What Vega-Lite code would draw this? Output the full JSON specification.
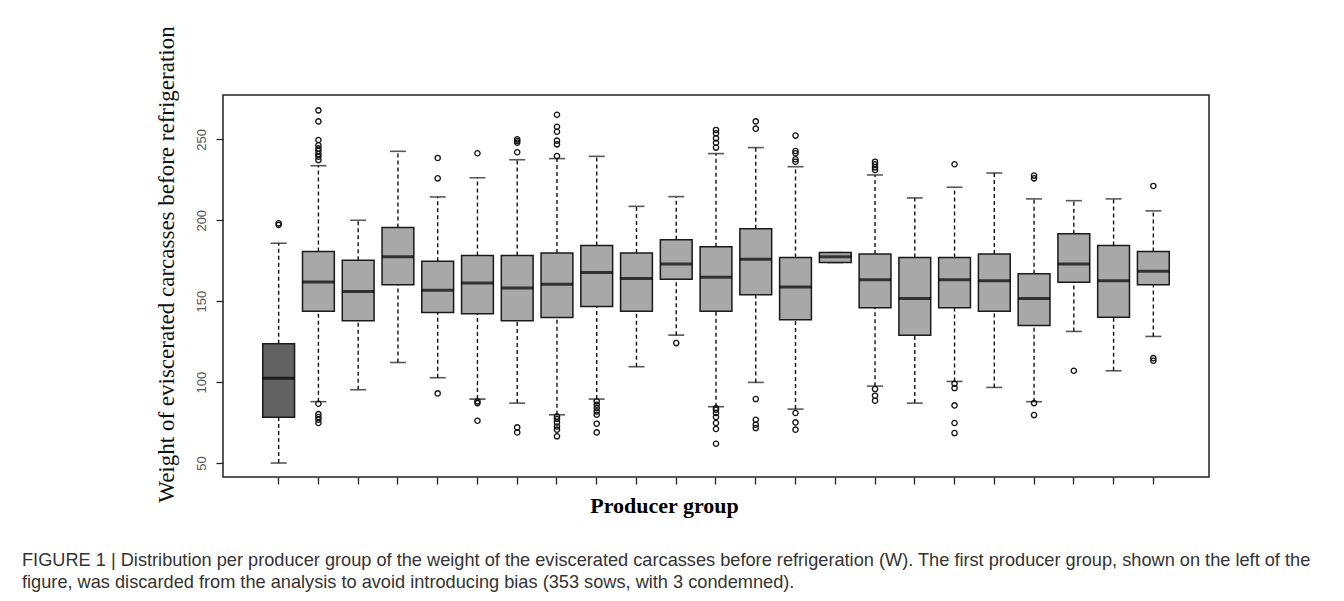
{
  "$schema": "https://vega.github.io/schema/vega-lite/v6.json",
  "width": 986,
  "height": 382,
  "autosize": {"type": "none"},
  "padding": {"left": 223, "top": 95, "right": 135, "bottom": 124},
  "background": "white",
  "title": {
    "text": [
      "FIGURE 1 | Distribution per producer group of the weight of the eviscerated carcasses before refrigeration (W). The first producer group, shown on the left of the",
      "figure, was discarded from the analysis to avoid introducing bias (353 sows, with 3 condemned)."
    ],
    "orient": "bottom",
    "anchor": "start",
    "frame": "group",
    "dx": -201,
    "offset": 36,
    "font": "Liberation Sans",
    "fontSize": 18.2,
    "fontWeight": "normal",
    "color": "#333333",
    "lineHeight": 22
  },
  "datasets": {
    "boxes": [
      {"group": 1, "status": "discarded", "lower": 50, "q1": 78.2, "median": 102.3, "q3": 123.7, "upper": 185.8},
      {"group": 2, "status": "kept", "lower": 87.9, "q1": 143.8, "median": 161.9, "q3": 180.7, "upper": 233.7},
      {"group": 3, "status": "kept", "lower": 95.3, "q1": 137.9, "median": 156, "q3": 175.3, "upper": 200},
      {"group": 4, "status": "kept", "lower": 112.1, "q1": 160.1, "median": 177.4, "q3": 195.5, "upper": 242.6},
      {"group": 5, "status": "kept", "lower": 102.7, "q1": 143, "median": 156.8, "q3": 174.7, "upper": 214.4},
      {"group": 6, "status": "kept", "lower": 89.5, "q1": 142.2, "median": 161.3, "q3": 178.2, "upper": 226.3},
      {"group": 7, "status": "kept", "lower": 87, "q1": 137.9, "median": 158.2, "q3": 178.2, "upper": 237.4},
      {"group": 8, "status": "kept", "lower": 79.8, "q1": 139.9, "median": 160.5, "q3": 179.8, "upper": 238.1},
      {"group": 9, "status": "kept", "lower": 89.5, "q1": 146.7, "median": 167.7, "q3": 184.4, "upper": 239.5},
      {"group": 10, "status": "kept", "lower": 109.5, "q1": 143.8, "median": 164, "q3": 179.8, "upper": 208.6},
      {"group": 11, "status": "kept", "lower": 129, "q1": 163.6, "median": 173, "q3": 187.9, "upper": 214.6},
      {"group": 12, "status": "kept", "lower": 84.8, "q1": 143.8, "median": 164.8, "q3": 183.7, "upper": 241.2},
      {"group": 13, "status": "kept", "lower": 99.8, "q1": 153.9, "median": 175.9, "q3": 194.7, "upper": 244.9},
      {"group": 14, "status": "kept", "lower": 83.3, "q1": 138.5, "median": 158.8, "q3": 177, "upper": 233.1},
      {"group": 15, "status": "kept", "lower": 173.9, "q1": 173.9, "median": 177.4, "q3": 180, "upper": 180},
      {"group": 16, "status": "kept", "lower": 97.5, "q1": 145.9, "median": 163.2, "q3": 179.2, "upper": 228},
      {"group": 17, "status": "kept", "lower": 87, "q1": 129, "median": 151.6, "q3": 177, "upper": 213.8},
      {"group": 18, "status": "kept", "lower": 100.4, "q1": 145.9, "median": 163.2, "q3": 177, "upper": 220.4},
      {"group": 19, "status": "kept", "lower": 96.7, "q1": 143.8, "median": 162.6, "q3": 179.2, "upper": 229.2},
      {"group": 20, "status": "kept", "lower": 87.9, "q1": 135, "median": 151.6, "q3": 166.9, "upper": 213.2},
      {"group": 21, "status": "kept", "lower": 131.3, "q1": 161.7, "median": 173, "q3": 191.6, "upper": 212.1},
      {"group": 22, "status": "kept", "lower": 107, "q1": 140.1, "median": 162.6, "q3": 184.4, "upper": 213.2},
      {"group": 23, "status": "kept", "lower": 128.2, "q1": 160.1, "median": 168.5, "q3": 180.7, "upper": 205.8}
    ],
    "outliers": [
      {"group": 1, "value": 198.1}, {"group": 1, "value": 197.1},
      {"group": 2, "value": 267.9}, {"group": 2, "value": 261.1}, {"group": 2, "value": 249.6}, {"group": 2, "value": 246.3}, {"group": 2, "value": 244.4}, {"group": 2, "value": 242.8}, {"group": 2, "value": 240.9}, {"group": 2, "value": 239.3}, {"group": 2, "value": 237.2}, {"group": 2, "value": 86.6}, {"group": 2, "value": 80.2}, {"group": 2, "value": 78.4}, {"group": 2, "value": 76.7}, {"group": 2, "value": 74.7},
      {"group": 5, "value": 238.5}, {"group": 5, "value": 225.9}, {"group": 5, "value": 93},
      {"group": 6, "value": 241.4}, {"group": 6, "value": 88.1}, {"group": 6, "value": 87}, {"group": 6, "value": 76.1},
      {"group": 7, "value": 250}, {"group": 7, "value": 249}, {"group": 7, "value": 247.9}, {"group": 7, "value": 242}, {"group": 7, "value": 72}, {"group": 7, "value": 68.9},
      {"group": 8, "value": 265.2}, {"group": 8, "value": 257.8}, {"group": 8, "value": 254.7}, {"group": 8, "value": 249.2}, {"group": 8, "value": 246.9}, {"group": 8, "value": 239.7}, {"group": 8, "value": 78.8}, {"group": 8, "value": 77.2}, {"group": 8, "value": 75.1}, {"group": 8, "value": 72.6}, {"group": 8, "value": 70.6}, {"group": 8, "value": 66.5},
      {"group": 9, "value": 88.1}, {"group": 9, "value": 86}, {"group": 9, "value": 84}, {"group": 9, "value": 81.9}, {"group": 9, "value": 79.8}, {"group": 9, "value": 74.3}, {"group": 9, "value": 68.9},
      {"group": 11, "value": 124.1},
      {"group": 12, "value": 255.8}, {"group": 12, "value": 253.7}, {"group": 12, "value": 250.6}, {"group": 12, "value": 247.9}, {"group": 12, "value": 244.9}, {"group": 12, "value": 84}, {"group": 12, "value": 82.9}, {"group": 12, "value": 80.9}, {"group": 12, "value": 78.4}, {"group": 12, "value": 74.7}, {"group": 12, "value": 71}, {"group": 12, "value": 61.9},
      {"group": 13, "value": 261.1}, {"group": 13, "value": 256.6}, {"group": 13, "value": 89.5}, {"group": 13, "value": 76.7}, {"group": 13, "value": 73.7}, {"group": 13, "value": 71.6},
      {"group": 14, "value": 252.3}, {"group": 14, "value": 242.8}, {"group": 14, "value": 241.4}, {"group": 14, "value": 237.7}, {"group": 14, "value": 236.2}, {"group": 14, "value": 80.9}, {"group": 14, "value": 75.1}, {"group": 14, "value": 70.6},
      {"group": 16, "value": 236.2}, {"group": 16, "value": 234.6}, {"group": 16, "value": 232.7}, {"group": 16, "value": 231.1}, {"group": 16, "value": 95.7}, {"group": 16, "value": 91.6}, {"group": 16, "value": 88.5},
      {"group": 18, "value": 234.6}, {"group": 18, "value": 99}, {"group": 18, "value": 96.3}, {"group": 18, "value": 85.6}, {"group": 18, "value": 74.7}, {"group": 18, "value": 68.5},
      {"group": 20, "value": 227.6}, {"group": 20, "value": 225.9}, {"group": 20, "value": 87}, {"group": 20, "value": 79.6},
      {"group": 21, "value": 107},
      {"group": 23, "value": 221.2}, {"group": 23, "value": 114.8}, {"group": 23, "value": 113.2}
    ]
  },
  "encoding": {
    "x": {
      "field": "group",
      "type": "ordinal",
      "title": "Producer group",
      "scale": {"paddingInner": 0.2, "paddingOuter": 1.0245}
    }
  },
  "layer": [
    {
      "data": {"name": "boxes"},
      "mark": {"type": "rule", "color": "#111111", "strokeWidth": 1.4, "strokeDash": [4, 3]},
      "encoding": {
        "y": {"field": "lower", "type": "quantitative", "title": "Weight of eviscerated carcasses before refrigeration", "scale": {"domain": [41.35, 277.4], "nice": false, "zero": false}},
        "y2": {"field": "q1"}
      }
    },
    {
      "data": {"name": "boxes"},
      "mark": {"type": "rule", "color": "#111111", "strokeWidth": 1.4, "strokeDash": [4, 3]},
      "encoding": {
        "y": {"field": "q3", "type": "quantitative", "title": "Weight of eviscerated carcasses before refrigeration"},
        "y2": {"field": "upper"}
      }
    },
    {
      "data": {"name": "boxes"},
      "mark": {"type": "tick", "color": "#111111", "size": 16, "thickness": 1.6},
      "encoding": {
        "y": {"field": "upper", "type": "quantitative", "title": "Weight of eviscerated carcasses before refrigeration"}
      }
    },
    {
      "data": {"name": "boxes"},
      "mark": {"type": "tick", "color": "#111111", "size": 16, "thickness": 1.6},
      "encoding": {
        "y": {"field": "lower", "type": "quantitative", "title": "Weight of eviscerated carcasses before refrigeration"}
      }
    },
    {
      "data": {"name": "boxes"},
      "mark": {"type": "bar", "stroke": "#1a1a1a", "strokeWidth": 1.5},
      "encoding": {
        "y": {"field": "q1", "type": "quantitative", "title": "Weight of eviscerated carcasses before refrigeration"},
        "y2": {"field": "q3"},
        "color": {"field": "status", "type": "nominal", "legend": null, "scale": {"domain": ["discarded", "kept"], "range": ["#626262", "#a8a8a8"]}}
      }
    },
    {
      "data": {"name": "boxes"},
      "mark": {"type": "tick", "color": "#000000", "size": 32, "thickness": 3},
      "encoding": {
        "y": {"field": "median", "type": "quantitative", "title": "Weight of eviscerated carcasses before refrigeration"}
      }
    },
    {
      "data": {"name": "outliers"},
      "mark": {"type": "point", "shape": "circle", "filled": false, "color": "#111111", "size": 28, "strokeWidth": 1.3, "opacity": 1},
      "encoding": {
        "y": {"field": "value", "type": "quantitative", "title": "Weight of eviscerated carcasses before refrigeration"}
      }
    }
  ],
  "config": {
    "view": {"stroke": "#222222", "strokeWidth": 1.5},
    "axisX": {
      "domain": false, "labels": false, "grid": false,
      "tickSize": 7, "tickColor": "#222222", "tickWidth": 1.3,
      "titleFont": "Liberation Serif", "titleFontSize": 22, "titleFontWeight": "bold", "titleColor": "#000000",
      "titleX": 441, "titleY": 35, "titleAlign": "center", "titleBaseline": "alphabetic"
    },
    "axisY": {
      "domain": false, "grid": false, "tickCount": 5,
      "tickSize": 7, "tickColor": "#222222", "tickWidth": 1.3,
      "labelAngle": 270, "labelAlign": "center", "labelBaseline": "alphabetic", "labelPadding": 11,
      "labelFont": "Liberation Sans", "labelFontSize": 13, "labelColor": "#555555",
      "titleFont": "Liberation Serif", "titleFontSize": 23, "titleFontWeight": "normal", "titleColor": "#111111",
      "titleX": -50, "titleY": 169, "titleAngle": 270, "titleAlign": "center", "titleBaseline": "alphabetic"
    }
  }
}
